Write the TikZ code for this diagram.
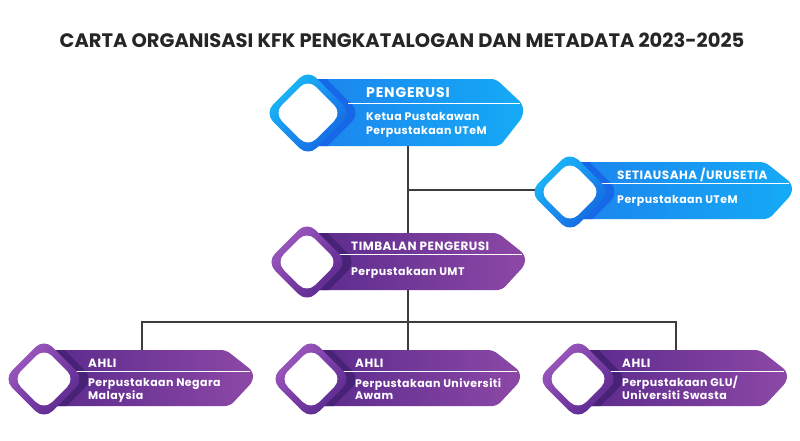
\documentclass[tikz,border=0pt]{standalone}
\usepackage{fontspec}
\setmainfont{Poppins}
\definecolor{bL}{RGB}{28,132,238}
\definecolor{bR}{RGB}{21,170,246}
\definecolor{bS}{RGB}{22,104,232}
\definecolor{bUL}{RGB}{24,192,248}
\definecolor{bMid}{RGB}{26,142,240}
\definecolor{bLR}{RGB}{20,100,222}
\definecolor{pL}{RGB}{90,42,140}
\definecolor{pR}{RGB}{140,72,166}
\definecolor{pS}{RGB}{72,34,118}
\definecolor{pUL}{RGB}{162,94,194}
\definecolor{pMid}{RGB}{122,62,166}
\definecolor{pLR}{RGB}{88,40,140}
\definecolor{lineC}{RGB}{60,60,60}
\newcommand\bpath[4]{(#1,#2) -- ({#4-27},#2) -- (#4,{#2+0.38*(#3-#2)}) -- (#4,{#2+0.56*(#3-#2)}) -- ({#4-23},#3) -- (#1,#3) -- cycle}
\newcommand\dmd[3]{({#1},{(#2)-(#3)}) -- ({(#1)+(#3)},{#2}) -- ({#1},{(#2)+(#3)}) -- ({(#1)-(#3)},{#2}) -- cycle}
% #1 scheme, #2 cx, #3 cy, #4 H, #5 top, #6 bottom, #7 right, #8 sep x, #9 sep y
\newcommand\orgbox[9]{%
  \shade[left color=#1L, right color=#1R, rounded corners=5pt] \bpath{#2}{#5}{#6}{#7};
  \begin{scope}
    \clip[rounded corners=5pt] \bpath{#2}{#5}{#6}{#7};
    \fill[#1S, rounded corners=12pt] \dmd{#2+9}{#3}{#4};
  \end{scope}
  \draw[white, line width=0.7pt] (#8,#9) -- ({#7-3},#9);
  \shade[top color=#1UL, bottom color=#1LR, middle color=#1Mid, shading angle=45, rounded corners=12pt] \dmd{#2}{#3}{#4};
  \fill[white, rounded corners=11pt] \dmd{#2}{#3}{#4-9.5};
}
\tikzset{
  hd/.style={font=\bfseries\fontsize{12}{14}\selectfont\addfontfeatures{LetterSpace=4}, text=white, anchor=base west, inner sep=0pt},
  hdbig/.style={font=\bfseries\fontsize{14}{16}\selectfont\addfontfeatures{LetterSpace=6}, text=white, anchor=base west, inner sep=0pt},
  sub/.style={font=\bfseries\fontsize{11}{14}\selectfont\addfontfeatures{LetterSpace=4}, text=white, anchor=base west, inner sep=0pt, align=left},
  subs/.style={font=\bfseries\fontsize{11}{11.5}\selectfont\addfontfeatures{LetterSpace=4}, text=white, anchor=base west, inner sep=0pt, align=left},
  conn/.style={draw=lineC, line width=1.1pt},
  ttl/.style={font=\fontsize{19.5}{24}\selectfont\bfseries, text=black!85, anchor=base, inner sep=0pt}
}
\begin{document}
\begin{tikzpicture}[x=1pt,y=-1pt]
\useasboundingbox[fill=white] (0,0) rectangle (800,440);
\node[ttl] (title) at (402,47) {CARTA ORGANISASI KFK PENGKATALOGAN DAN METADATA 2023-2025};
% connector points
\coordinate (pengB) at (408,146);
\coordinate (timbT) at (408,233);
\coordinate (joint) at (408,190);
\coordinate (setiL) at (537,190);
\coordinate (timbB) at (408,290);
\coordinate (bus) at (408,322);
\coordinate (ahliAT) at (142,350);
\coordinate (ahliBT) at (408,350);
\coordinate (ahliCT) at (676,350);
\draw[conn] (pengB) -- (timbT);
\draw[conn] (joint) -- (setiL);
\draw[conn] (timbB) -- (bus);
\draw[conn] (bus) -| (ahliAT);
\draw[conn] (bus) -| (ahliCT);
\draw[conn] (bus) -- (ahliBT);
% boxes
\orgbox{b}{308}{113}{43.5}{79}{146}{523}{348}{103}
\orgbox{b}{570}{192}{40.5}{162}{219}{792}{600}{183}
\orgbox{p}{307}{262}{40.5}{233}{290}{525}{335}{254}
\orgbox{p}{44}{379}{40.5}{350}{406}{253}{72}{371}
\orgbox{p}{311}{379}{40.5}{350}{406}{520}{339}{371}
\orgbox{p}{578}{379}{40.5}{350}{406}{787}{606}{371}
% texts
\node[hdbig] (pengH) at (366,97) {PENGERUSI};
\node[sub] (pengS) at (366,134) {Ketua Pustakawan\\Perpustakaan UTeM};
\node[hd] (setiH) at (617,179) {SETIAUSAHA /URUSETIA};
\node[sub] (setiS) at (617,203) {Perpustakaan UTeM};
\node[hd] (timbH) at (351,250) {TIMBALAN PENGERUSI};
\node[sub] (timbS) at (351,275) {Perpustakaan UMT};
\node[hd] (ahliAH) at (88,367) {AHLI};
\node[subs] (ahliAS) at (88,399) {Perpustakaan Negara\\Malaysia};
\node[hd] (ahliBH) at (355,367) {AHLI};
\node[subs] (ahliBS) at (355,399) {Perpustakaan Universiti\\Awam};
\node[hd] (ahliCH) at (622,367) {AHLI};
\node[subs] (ahliCS) at (622,399) {Perpustakaan GLU/\\Universiti Swasta};
\end{tikzpicture}
\end{document}
